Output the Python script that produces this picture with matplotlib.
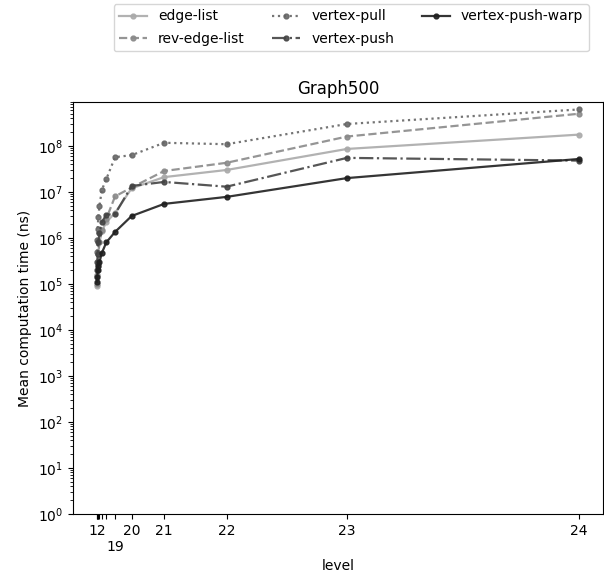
import matplotlib
matplotlib.use("Agg")
import matplotlib.pyplot as plt
from matplotlib.ticker import LogLocator, NullFormatter

# graph sizes per level (x positions)
levels = [12, 13, 14, 15, 16, 17, 18, 19, 20, 21, 22, 23, 24]
edges_m = [0.10, 0.19, 0.37, 0.71, 1.38, 2.65, 5.1, 9.9, 19.0, 36.8, 71.0, 137.0, 264.0]
tick_labels = ['12', '', '', '', '', '', '', '\n19', '20', '21', '22', '23', '24']

# mean computation time (ns)
edge_list = [9e4, 1.5e5, 2.5e5, 4.5e5, 8e5, 1.4e6, 2.2e6, 3.5e6, 1.2e7, 2.1e7, 3.0e7, 8.6e7, 1.76e8]
rev_edge_list = [1.0e5, 1.6e5, 2.7e5, 4.5e5, 8e5, 1.5e6, 2.6e6, 8.0e6, 1.25e7, 2.85e7, 4.3e7, 1.6e8, 5.0e8]
vertex_pull = [5e5, 9e5, 1.6e6, 2.8e6, 5e6, 1.1e7, 1.9e7, 5.7e7, 6.3e7, 1.17e8, 1.09e8, 3.0e8, 6.2e8]
vertex_push = [2e5, 3e5, 4.5e5, 8e5, 1.3e6, 2.2e6, 3.2e6, 3.3e6, 1.35e7, 1.65e7, 1.3e7, 5.5e7, 4.8e7]
vertex_push_warp = [1.1e5, 1.4e5, 2.0e5, 2.4e5, 3.0e5, 4.7e5, 8e5, 1.35e6, 3.0e6, 5.5e6, 7.8e6, 2.0e7, 5.2e7]

series = [
    ('edge-list', edge_list, '-', '#aaaaaa'),
    ('rev-edge-list', rev_edge_list, '--', '#8a8a8a'),
    ('vertex-pull', vertex_pull, ':', '#666666'),
    ('vertex-push', vertex_push, '-.', '#444444'),
    ('vertex-push-warp', vertex_push_warp, '-', '#1f1f1f'),
]

fig = plt.figure(figsize=(6.04, 5.81), dpi=100)
ax = fig.add_axes([0.121, 0.1153, 0.877, 0.7091])

for name, vals, ls, col in series:
    ax.plot(edges_m, vals, ls, marker='.', markersize=7, lw=1.6,
            color=col, label=name, alpha=0.9)

ax.set_yscale('log')
ax.set_ylim(1, 9e8)
ax.yaxis.set_major_locator(LogLocator(base=10, numticks=20))
ax.yaxis.set_minor_locator(LogLocator(base=10, subs=range(2, 10), numticks=20))
ax.yaxis.set_minor_formatter(NullFormatter())
ax.set_xticks(edges_m)
ax.set_xticklabels(tick_labels)
ax.set_xlabel('level')
ax.set_ylabel('Mean computation time (ns)')
ax.set_title('Graph500')

ax.legend(ncol=3, loc='upper center', bbox_to_anchor=(0.525, 1.255), frameon=True,
          labelspacing=0.6)

fig.savefig('out.png', dpi=100)
